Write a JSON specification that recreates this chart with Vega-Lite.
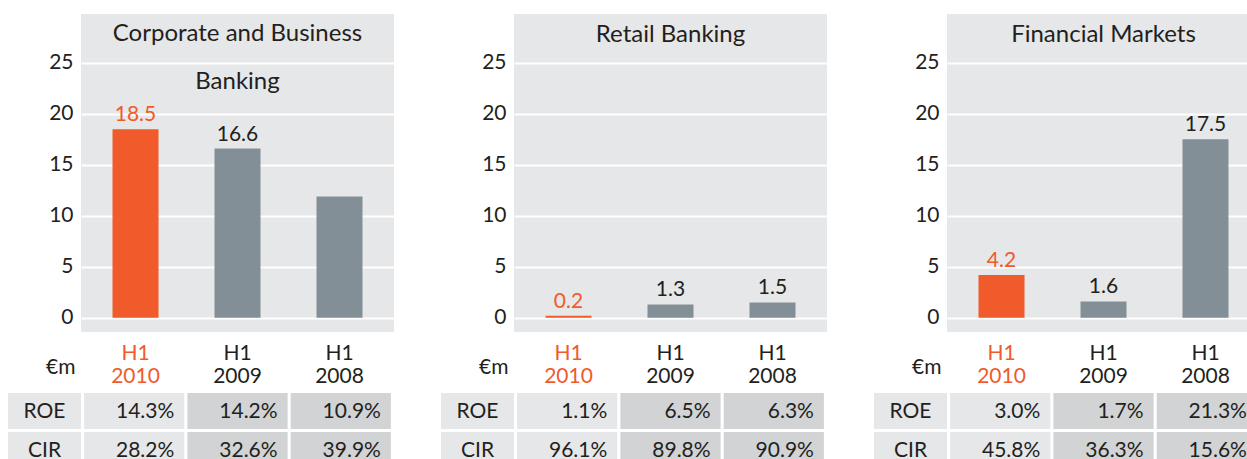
{
  "$schema": "https://vega.github.io/schema/vega-lite/v6.json",
  "padding": {"left": 8, "top": 14, "right": 0, "bottom": 0},
  "background": "white",
  "spacing": 47,
  "config": {"font": "Lato", "view": {"stroke": null}},
  "datasets": {
    "bars": [
      {"segment": "CBB", "period": "2010", "value": 18.5, "label": "18.5"},
      {"segment": "CBB", "period": "2009", "value": 16.6, "label": "16.6"},
      {"segment": "CBB", "period": "2008", "value": 11.9, "label": ""},
      {"segment": "RB", "period": "2010", "value": 0.2, "label": "0.2"},
      {"segment": "RB", "period": "2009", "value": 1.3, "label": "1.3"},
      {"segment": "RB", "period": "2008", "value": 1.5, "label": "1.5"},
      {"segment": "FM", "period": "2010", "value": 4.2, "label": "4.2"},
      {"segment": "FM", "period": "2009", "value": 1.6, "label": "1.6"},
      {"segment": "FM", "period": "2008", "value": 17.5, "label": "17.5"}
    ],
    "table": [
      {"segment": "CBB", "metric": "ROE", "period": "2010", "val": 0.143},
      {"segment": "CBB", "metric": "ROE", "period": "2009", "val": 0.142},
      {"segment": "CBB", "metric": "ROE", "period": "2008", "val": 0.109},
      {"segment": "CBB", "metric": "CIR", "period": "2010", "val": 0.282},
      {"segment": "CBB", "metric": "CIR", "period": "2009", "val": 0.326},
      {"segment": "CBB", "metric": "CIR", "period": "2008", "val": 0.399},
      {"segment": "RB", "metric": "ROE", "period": "2010", "val": 0.011},
      {"segment": "RB", "metric": "ROE", "period": "2009", "val": 0.065},
      {"segment": "RB", "metric": "ROE", "period": "2008", "val": 0.063},
      {"segment": "RB", "metric": "CIR", "period": "2010", "val": 0.961},
      {"segment": "RB", "metric": "CIR", "period": "2009", "val": 0.898},
      {"segment": "RB", "metric": "CIR", "period": "2008", "val": 0.909},
      {"segment": "FM", "metric": "ROE", "period": "2010", "val": 0.030},
      {"segment": "FM", "metric": "ROE", "period": "2009", "val": 0.017},
      {"segment": "FM", "metric": "ROE", "period": "2008", "val": 0.213},
      {"segment": "FM", "metric": "CIR", "period": "2010", "val": 0.458},
      {"segment": "FM", "metric": "CIR", "period": "2009", "val": 0.363},
      {"segment": "FM", "metric": "CIR", "period": "2008", "val": 0.156}
    ]
  },
  "hconcat": [
    {
      "spacing": 7,
      "vconcat": [
        {
          "width": 313, "height": 318,
          "data": {"name": "bars"},
          "transform": [{"filter": "datum.segment == 'CBB'"}],
          "title": {"text": ["Corporate and Business", "Banking"], "orient": "top", "anchor": "middle", "offset": -80, "baseline": "top", "fontSize": 24, "fontWeight": "normal", "color": "#231f20", "lineHeight": 48},
          "view": {"fill": "#e6e7e8", "stroke": null},
          "encoding": {
            "x": {"field": "period", "type": "nominal", "sort": ["2010", "2009", "2008"], "scale": {"paddingInner": 0.549, "paddingOuter": 0.309},
              "axis": {"title": null, "domain": false, "ticks": false, "labelAngle": 0, "labelExpr": "['H1', datum.label]", "labelFontSize": 21, "labelLineHeight": 23, "labelPadding": 10, "labelBaseline": "top",
                "labelColor": {"condition": {"test": "datum.label == '2010'", "value": "#f15a2b"}, "value": "#231f20"}}},
            "y": {"field": "value", "type": "quantitative", "scale": {"domain": [-1.4, 29.8], "nice": false, "zero": false},
              "axis": {"values": [0, 5, 10, 15, 20, 25], "title": "€m", "titleAngle": 0, "titleX": -6, "titleY": 353, "titleAlign": "right", "titleBaseline": "middle", "titleFontSize": 21, "titleFontWeight": "normal", "titleColor": "#231f20",
                "domain": false, "ticks": false, "labelFontSize": 21, "labelColor": "#231f20", "labelPadding": 8, "gridColor": "white", "gridWidth": 2, "gridOpacity": 1}}
          },
          "layer": [
            {"mark": {"type": "bar"}, "encoding": {"color": {"condition": {"test": "datum.period == '2010'", "value": "#f15a2b"}, "value": "#838f96"}}},
            {"mark": {"type": "text", "dy": -8, "baseline": "alphabetic", "fontSize": 21}, "encoding": {"text": {"field": "label"}, "color": {"condition": {"test": "datum.period == '2010'", "value": "#f15a2b"}, "value": "#231f20"}}}
          ]
        },
        {
          "width": 313, "height": 75,
          "data": {"name": "table"},
          "transform": [{"filter": "datum.segment == 'CBB'"}],
          "encoding": {"y": {"field": "metric", "type": "nominal", "sort": ["ROE", "CIR"], "scale": {"paddingInner": 0.077, "paddingOuter": 0}, "axis": null}},
          "layer": [
            {
              "transform": [{"filter": "datum.period == '2010'"}],
              "encoding": {"x": {"datum": "lbl", "type": "nominal", "scale": {"range": [-73, 0], "paddingInner": 0, "paddingOuter": 0}, "axis": null}},
              "layer": [
                {"mark": {"type": "rect", "color": "#e6e7e8"}},
                {"mark": {"type": "text", "fontSize": 21, "color": "#231f20", "dy": 1}, "encoding": {"text": {"field": "metric"}}}
              ]
            },
            {
              "encoding": {"x": {"field": "period", "type": "nominal", "sort": ["2010", "2009", "2008"], "scale": {"paddingInner": 0.03, "paddingOuter": 0.03}, "axis": null}},
              "layer": [
                {"mark": {"type": "rect"}, "encoding": {"color": {"condition": {"test": "datum.period == '2010'", "value": "#e6e7e8"}, "value": "#d1d3d4"}}},
                {"mark": {"type": "text", "align": "right", "dx": -10, "dy": 1, "fontSize": 21, "color": "#231f20"}, "encoding": {"x": {"field": "period", "type": "nominal", "sort": ["2010", "2009", "2008"], "bandPosition": 1}, "text": {"field": "val", "format": ".1%"}}}
              ]
            }
          ],
          "resolve": {"scale": {"x": "independent"}}
        }
      ]
    },
    {
      "spacing": 7,
      "vconcat": [
        {
          "width": 313, "height": 318,
          "data": {"name": "bars"},
          "transform": [{"filter": "datum.segment == 'RB'"}],
          "title": {"text": "Retail Banking", "orient": "top", "anchor": "middle", "offset": -33, "baseline": "top", "fontSize": 24, "fontWeight": "normal", "color": "#231f20"},
          "view": {"fill": "#e6e7e8", "stroke": null},
          "encoding": {
            "x": {"field": "period", "type": "nominal", "sort": ["2010", "2009", "2008"], "scale": {"paddingInner": 0.549, "paddingOuter": 0.309},
              "axis": {"title": null, "domain": false, "ticks": false, "labelAngle": 0, "labelExpr": "['H1', datum.label]", "labelFontSize": 21, "labelLineHeight": 23, "labelPadding": 10, "labelBaseline": "top",
                "labelColor": {"condition": {"test": "datum.label == '2010'", "value": "#f15a2b"}, "value": "#231f20"}}},
            "y": {"field": "value", "type": "quantitative", "scale": {"domain": [-1.4, 29.8], "nice": false, "zero": false},
              "axis": {"values": [0, 5, 10, 15, 20, 25], "title": "€m", "titleAngle": 0, "titleX": -6, "titleY": 353, "titleAlign": "right", "titleBaseline": "middle", "titleFontSize": 21, "titleFontWeight": "normal", "titleColor": "#231f20",
                "domain": false, "ticks": false, "labelFontSize": 21, "labelColor": "#231f20", "labelPadding": 8, "gridColor": "white", "gridWidth": 2, "gridOpacity": 1}}
          },
          "layer": [
            {"mark": {"type": "bar"}, "encoding": {"color": {"condition": {"test": "datum.period == '2010'", "value": "#f15a2b"}, "value": "#838f96"}}},
            {"mark": {"type": "text", "dy": -8, "baseline": "alphabetic", "fontSize": 21}, "encoding": {"text": {"field": "label"}, "color": {"condition": {"test": "datum.period == '2010'", "value": "#f15a2b"}, "value": "#231f20"}}}
          ]
        },
        {
          "width": 313, "height": 75,
          "data": {"name": "table"},
          "transform": [{"filter": "datum.segment == 'RB'"}],
          "encoding": {"y": {"field": "metric", "type": "nominal", "sort": ["ROE", "CIR"], "scale": {"paddingInner": 0.077, "paddingOuter": 0}, "axis": null}},
          "layer": [
            {
              "transform": [{"filter": "datum.period == '2010'"}],
              "encoding": {"x": {"datum": "lbl", "type": "nominal", "scale": {"range": [-73, 0], "paddingInner": 0, "paddingOuter": 0}, "axis": null}},
              "layer": [
                {"mark": {"type": "rect", "color": "#e6e7e8"}},
                {"mark": {"type": "text", "fontSize": 21, "color": "#231f20", "dy": 1}, "encoding": {"text": {"field": "metric"}}}
              ]
            },
            {
              "encoding": {"x": {"field": "period", "type": "nominal", "sort": ["2010", "2009", "2008"], "scale": {"paddingInner": 0.03, "paddingOuter": 0.03}, "axis": null}},
              "layer": [
                {"mark": {"type": "rect"}, "encoding": {"color": {"condition": {"test": "datum.period == '2010'", "value": "#e6e7e8"}, "value": "#d1d3d4"}}},
                {"mark": {"type": "text", "align": "right", "dx": -10, "dy": 1, "fontSize": 21, "color": "#231f20"}, "encoding": {"x": {"field": "period", "type": "nominal", "sort": ["2010", "2009", "2008"], "bandPosition": 1}, "text": {"field": "val", "format": ".1%"}}}
              ]
            }
          ],
          "resolve": {"scale": {"x": "independent"}}
        }
      ]
    },
    {
      "spacing": 7,
      "vconcat": [
        {
          "width": 313, "height": 318,
          "data": {"name": "bars"},
          "transform": [{"filter": "datum.segment == 'FM'"}],
          "title": {"text": "Financial Markets", "orient": "top", "anchor": "middle", "offset": -33, "baseline": "top", "fontSize": 24, "fontWeight": "normal", "color": "#231f20"},
          "view": {"fill": "#e6e7e8", "stroke": null},
          "encoding": {
            "x": {"field": "period", "type": "nominal", "sort": ["2010", "2009", "2008"], "scale": {"paddingInner": 0.549, "paddingOuter": 0.309},
              "axis": {"title": null, "domain": false, "ticks": false, "labelAngle": 0, "labelExpr": "['H1', datum.label]", "labelFontSize": 21, "labelLineHeight": 23, "labelPadding": 10, "labelBaseline": "top",
                "labelColor": {"condition": {"test": "datum.label == '2010'", "value": "#f15a2b"}, "value": "#231f20"}}},
            "y": {"field": "value", "type": "quantitative", "scale": {"domain": [-1.4, 29.8], "nice": false, "zero": false},
              "axis": {"values": [0, 5, 10, 15, 20, 25], "title": "€m", "titleAngle": 0, "titleX": -6, "titleY": 353, "titleAlign": "right", "titleBaseline": "middle", "titleFontSize": 21, "titleFontWeight": "normal", "titleColor": "#231f20",
                "domain": false, "ticks": false, "labelFontSize": 21, "labelColor": "#231f20", "labelPadding": 8, "gridColor": "white", "gridWidth": 2, "gridOpacity": 1}}
          },
          "layer": [
            {"mark": {"type": "bar"}, "encoding": {"color": {"condition": {"test": "datum.period == '2010'", "value": "#f15a2b"}, "value": "#838f96"}}},
            {"mark": {"type": "text", "dy": -8, "baseline": "alphabetic", "fontSize": 21}, "encoding": {"text": {"field": "label"}, "color": {"condition": {"test": "datum.period == '2010'", "value": "#f15a2b"}, "value": "#231f20"}}}
          ]
        },
        {
          "width": 313, "height": 75,
          "data": {"name": "table"},
          "transform": [{"filter": "datum.segment == 'FM'"}],
          "encoding": {"y": {"field": "metric", "type": "nominal", "sort": ["ROE", "CIR"], "scale": {"paddingInner": 0.077, "paddingOuter": 0}, "axis": null}},
          "layer": [
            {
              "transform": [{"filter": "datum.period == '2010'"}],
              "encoding": {"x": {"datum": "lbl", "type": "nominal", "scale": {"range": [-73, 0], "paddingInner": 0, "paddingOuter": 0}, "axis": null}},
              "layer": [
                {"mark": {"type": "rect", "color": "#e6e7e8"}},
                {"mark": {"type": "text", "fontSize": 21, "color": "#231f20", "dy": 1}, "encoding": {"text": {"field": "metric"}}}
              ]
            },
            {
              "encoding": {"x": {"field": "period", "type": "nominal", "sort": ["2010", "2009", "2008"], "scale": {"paddingInner": 0.03, "paddingOuter": 0.03}, "axis": null}},
              "layer": [
                {"mark": {"type": "rect"}, "encoding": {"color": {"condition": {"test": "datum.period == '2010'", "value": "#e6e7e8"}, "value": "#d1d3d4"}}},
                {"mark": {"type": "text", "align": "right", "dx": -10, "dy": 1, "fontSize": 21, "color": "#231f20"}, "encoding": {"x": {"field": "period", "type": "nominal", "sort": ["2010", "2009", "2008"], "bandPosition": 1}, "text": {"field": "val", "format": ".1%"}}}
              ]
            }
          ],
          "resolve": {"scale": {"x": "independent"}}
        }
      ]
    }
  ]
}
